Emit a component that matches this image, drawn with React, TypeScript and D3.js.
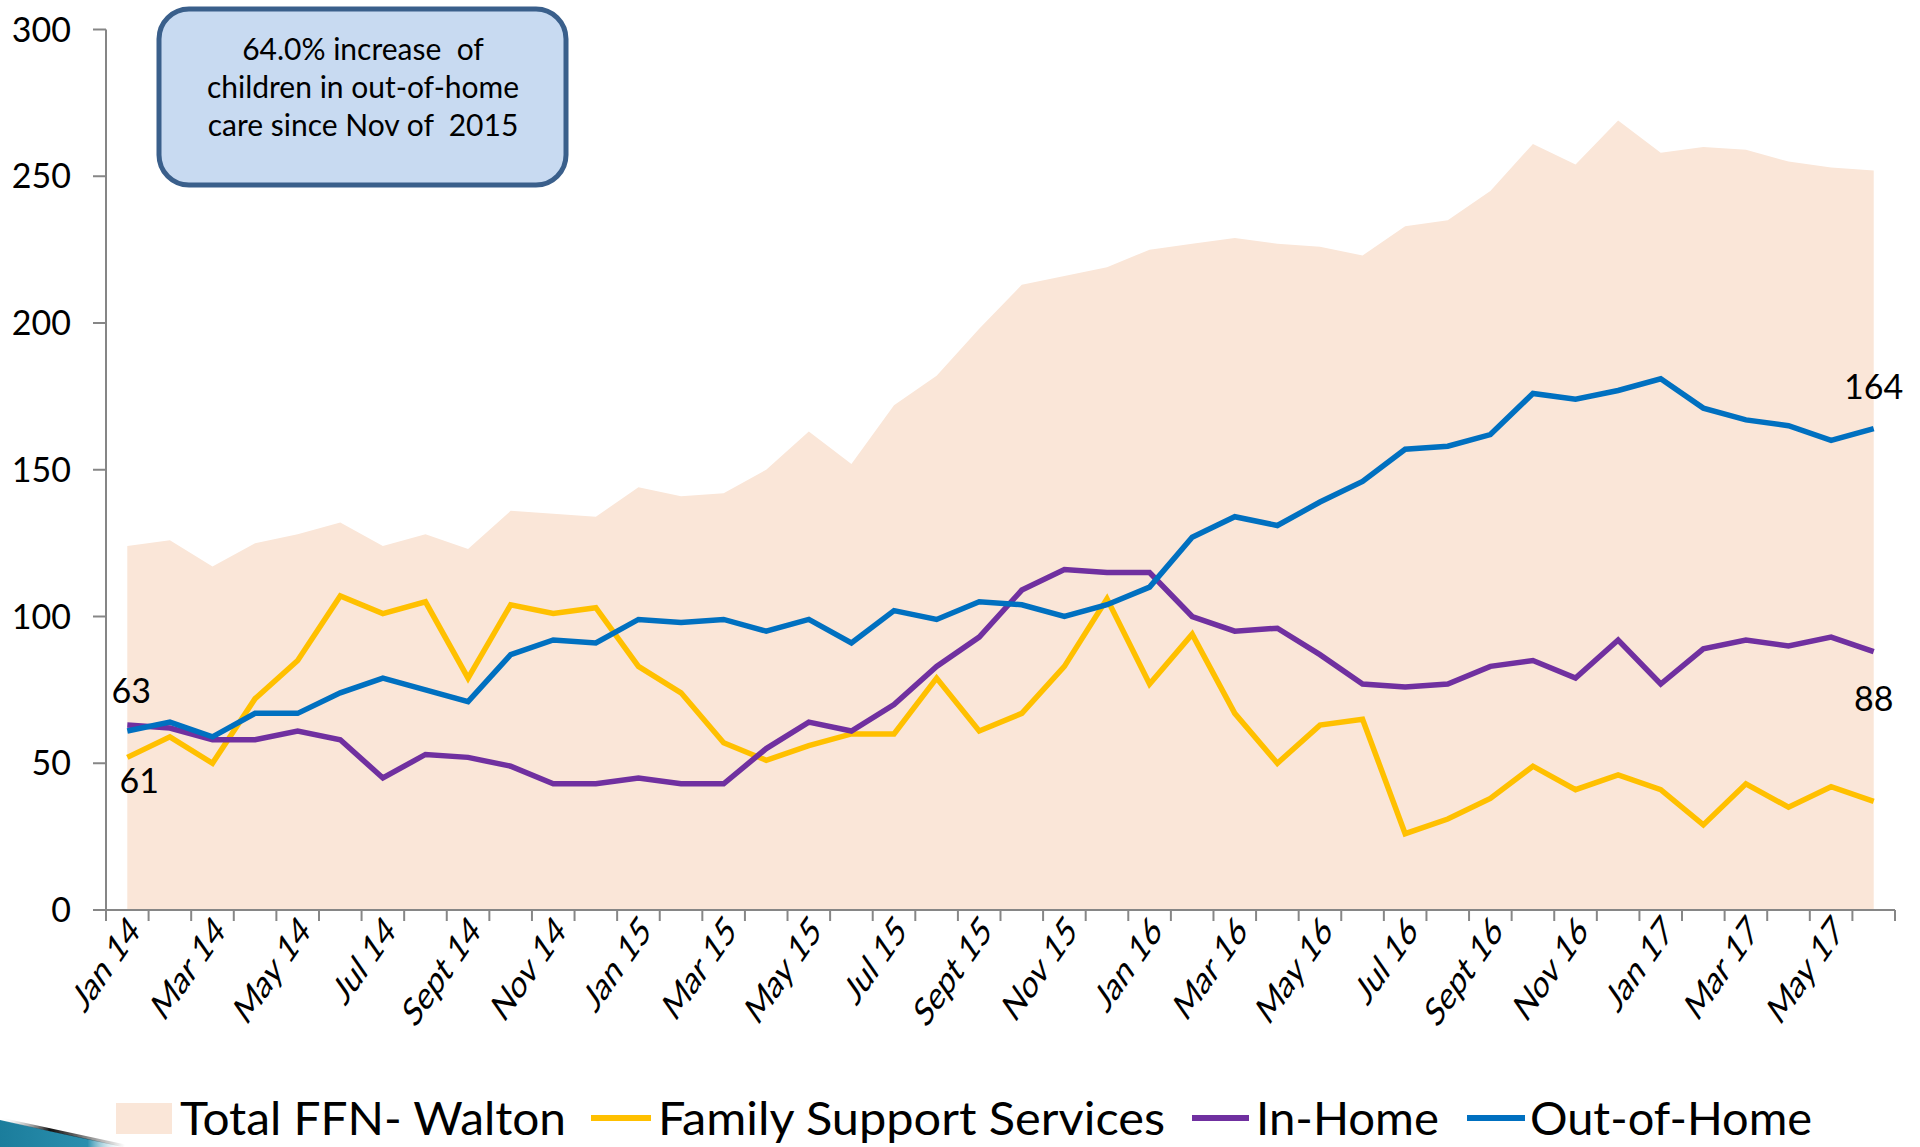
import React from 'react';
import * as d3 from 'd3';

// months along the x axis (every other one gets a label)
const months = [
  'Jan 14', 'Feb 14', 'Mar 14', 'Apr 14', 'May 14', 'Jun 14', 'Jul 14', 'Aug 14', 'Sept 14', 'Oct 14', 'Nov 14', 'Dec 14',
  'Jan 15', 'Feb 15', 'Mar 15', 'Apr 15', 'May 15', 'Jun 15', 'Jul 15', 'Aug 15', 'Sept 15', 'Oct 15', 'Nov 15', 'Dec 15',
  'Jan 16', 'Feb 16', 'Mar 16', 'Apr 16', 'May 16', 'Jun 16', 'Jul 16', 'Aug 16', 'Sept 16', 'Oct 16', 'Nov 16', 'Dec 16',
  'Jan 17', 'Feb 17', 'Mar 17', 'Apr 17', 'May 17', 'Jun 17',
];

const totalFFN = [
  124, 126, 117, 125, 128, 132, 124, 128, 123, 136, 135, 134,
  144, 141, 142, 150, 163, 152, 172, 182, 198, 213, 216, 219,
  225, 227, 229, 227, 226, 223, 233, 235, 245, 261, 254, 269,
  258, 260, 259, 255, 253, 252,
];
const familySupport = [
  52, 59, 50, 72, 85, 107, 101, 105, 79, 104, 101, 103,
  83, 74, 57, 51, 56, 60, 60, 79, 61, 67, 83, 106,
  77, 94, 67, 50, 63, 65, 26, 31, 38, 49, 41, 46,
  41, 29, 43, 35, 42, 37,
];
const inHome = [
  63, 62, 58, 58, 61, 58, 45, 53, 52, 49, 43, 43,
  45, 43, 43, 55, 64, 61, 70, 83, 93, 109, 116, 115,
  115, 100, 95, 96, 87, 77, 76, 77, 83, 85, 79, 92,
  77, 89, 92, 90, 93, 88,
];
const outOfHome = [
  61, 64, 59, 67, 67, 74, 79, 75, 71, 87, 92, 91,
  99, 98, 99, 95, 99, 91, 102, 99, 105, 104, 100, 104,
  110, 127, 134, 131, 139, 146, 157, 158, 162, 176, 174, 177,
  181, 171, 167, 165, 160, 164,
];
const yTicks = [0, 50, 100, 150, 200, 250, 300];
const boxLines = ['64.0% increase  of', 'children in out-of-home', 'care since Nov of  2015'];

const FONT = 'Lato, "Open Sans", sans-serif';
const AXIS = '#868686';

export default function App() {
  const width = 1920;
  const height = 1147;
  const left = 106;
  const right = 1895;
  const top = 29.5;
  const bottom = 910;

  const x = d3.scaleBand().domain(months).range([left, right]).paddingInner(0).paddingOuter(0);
  const cx = (i) => x(months[i]) + x.bandwidth() / 2;
  const y = d3.scaleLinear().domain([0, 300]).range([bottom, top]);

  const area = d3
    .area()
    .x((d, i) => cx(i))
    .y0(y(0))
    .y1((d) => y(d));
  const line = d3
    .line()
    .x((d, i) => cx(i))
    .y((d) => y(d));

  const series = [
    { name: 'Family Support Services', values: familySupport, color: '#FFC000' },
    { name: 'In-Home', values: inHome, color: '#7030A0' },
    { name: 'Out-of-Home', values: outOfHome, color: '#0070C0' },
  ];

  const last = months.length - 1;
  const boundaries = d3.range(months.length + 1).map((k) => left + k * x.bandwidth());

  return (
    <svg
      width={width}
      height={height}
      style={{ position: 'absolute', left: 0, top: 0, background: '#fff' }}
      fontFamily={FONT}
    >
      <defs>
        <linearGradient id="swoosh" x1="0" y1="0" x2="1" y2="0">
          <stop offset="0%" stopColor="#1b7d9c" />
          <stop offset="70%" stopColor="#2a8fae" />
          <stop offset="100%" stopColor="#ffffff" stopOpacity="0" />
        </linearGradient>
        <linearGradient id="swooshEdge" x1="0" y1="0" x2="1" y2="0">
          <stop offset="0%" stopColor="#ffffff" stopOpacity="0" />
          <stop offset="40%" stopColor="#111" />
          <stop offset="100%" stopColor="#111" stopOpacity="0" />
        </linearGradient>
      </defs>

      {/* total area */}
      <path d={area(totalFFN)} fill="#FAE6D8" />

      {/* y axis */}
      <line x1={left} x2={left} y1={top} y2={bottom} stroke={AXIS} strokeWidth={2} />
      {yTicks.map((t) => (
        <g key={t}>
          <line x1={left - 13} x2={left} y1={y(t)} y2={y(t)} stroke={AXIS} strokeWidth={2} />
          <text x={71} y={y(t) + 12} textAnchor="end" fontSize={34} fill="#000">
            {t}
          </text>
        </g>
      ))}

      {/* x axis */}
      <line x1={left} x2={right} y1={bottom} y2={bottom} stroke={AXIS} strokeWidth={2} />
      {boundaries.map((b, k) => (
        <line key={k} x1={b} x2={b} y1={bottom} y2={bottom + 11} stroke={AXIS} strokeWidth={2} />
      ))}
      {months.map((m, i) =>
        i % 2 === 0 ? (
          <text
            key={m}
            transform={`translate(${cx(i) + 14},933) scale(0.7,1) rotate(-45)`}
            textAnchor="end"
            fontSize={40}
            fill="#000"
          >
            {m}
          </text>
        ) : null
      )}

      {/* lines */}
      {series.map((s) => (
        <path
          key={s.name}
          d={line(s.values)}
          fill="none"
          stroke={s.color}
          strokeWidth={5.5}
          strokeLinejoin="miter"
        />
      ))}

      {/* data labels */}
      <text x={cx(0) + 4} y={y(inHome[0]) - 22} textAnchor="middle" fontSize={34}>
        {inHome[0]}
      </text>
      <text x={cx(0) + 12} y={y(outOfHome[0]) + 62} textAnchor="middle" fontSize={34}>
        {outOfHome[0]}
      </text>
      <text x={cx(last)} y={y(outOfHome[last]) - 30} textAnchor="middle" fontSize={34}>
        {outOfHome[last]}
      </text>
      <text x={cx(last)} y={y(inHome[last]) + 59} textAnchor="middle" fontSize={34}>
        {inHome[last]}
      </text>

      {/* callout box */}
      <rect x={159} y={9} width={407} height={176} rx={30} fill="#C8DAF1" stroke="#3A5F8B" strokeWidth={5} />
      {boxLines.map((l, i) => (
        <text key={i} x={363} y={60 + i * 38} textAnchor="middle" fontSize={30} fill="#000" style={{ whiteSpace: 'pre' }}>
          {l}
        </text>
      ))}

      {/* legend */}
      <rect x={116} y={1103} width={56} height={31} fill="#FAE6D8" />
      <text x={180} y={1135} fontSize={46} textLength={386} lengthAdjust="spacingAndGlyphs">
        Total FFN- Walton
      </text>
      <line x1={591} x2={651} y1={1118} y2={1118} stroke="#FFC000" strokeWidth={6} />
      <text x={658} y={1135} fontSize={46} textLength={507} lengthAdjust="spacingAndGlyphs">
        Family Support Services
      </text>
      <line x1={1192} x2={1249} y1={1118} y2={1118} stroke="#7030A0" strokeWidth={6} />
      <text x={1256} y={1135} fontSize={46} textLength={183} lengthAdjust="spacingAndGlyphs">
        In-Home
      </text>
      <line x1={1467} x2={1525} y1={1118} y2={1118} stroke="#0070C0" strokeWidth={6} />
      <text x={1530} y={1135} fontSize={46} textLength={282} lengthAdjust="spacingAndGlyphs">
        Out-of-Home
      </text>

      {/* slide decoration, bottom left */}
      <polygon points="0,1120 125,1147 0,1147" fill="url(#swoosh)" />
      <line x1={0} y1={1119} x2={125} y2={1146} stroke="url(#swooshEdge)" strokeWidth={3} />
    </svg>
  );
}
